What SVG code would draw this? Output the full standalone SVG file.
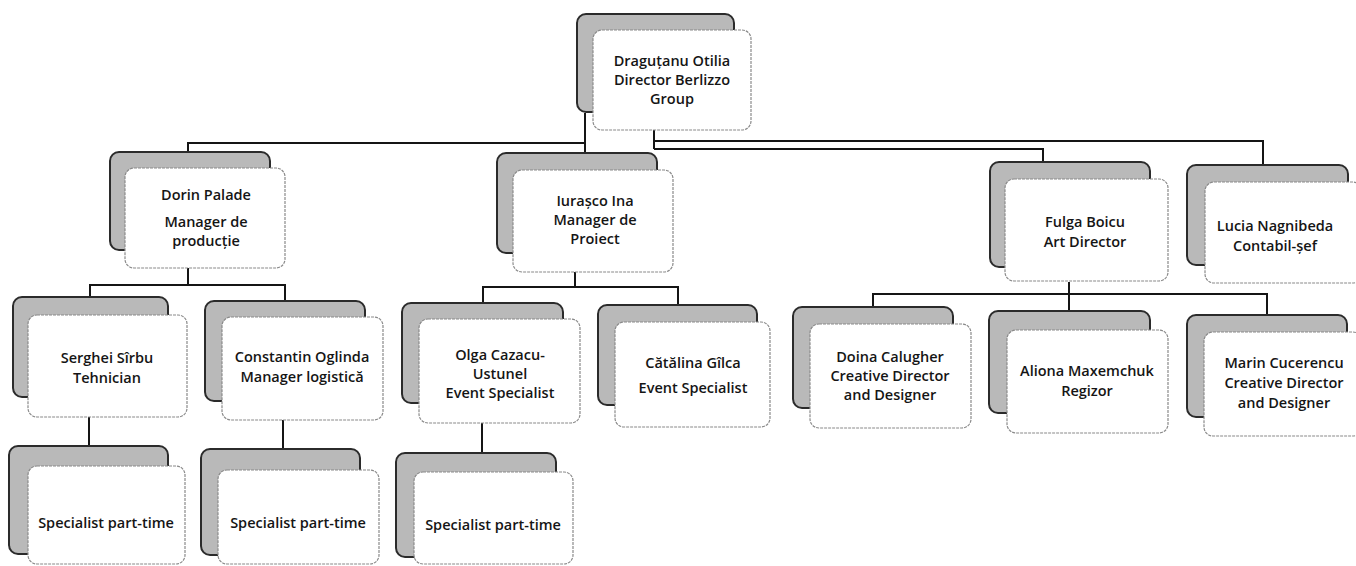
<svg xmlns="http://www.w3.org/2000/svg" width="1356" height="566" viewBox="0 0 1356 566">
<style>
.sh{fill:#b9b9b9;stroke:#2b2b2b;stroke-width:2}
.fr{fill:#ffffff;stroke:#8a8a8a;stroke-width:1.2;stroke-dasharray:3 1}
.t{font-family:"Open Sans","Noto Sans",sans-serif;font-size:14.5px;font-weight:600;fill:#151515;text-anchor:middle}
.c{fill:none;stroke:#151515;stroke-width:2}
</style>
<rect width="1356" height="566" fill="#ffffff"/>
<g id="connectors">
<path class="c" d="M585 113V153M188 152V143H585"/>
<path class="c" d="M654 130V149M654 141H1263V165M654 149H1043V162"/>
<path class="c" d="M188 268V285M90 297V285H285V301"/>
<path class="c" d="M575 272V287M483 303V287H678V305"/>
<path class="c" d="M1069 282V312M873 307V294H1267V315"/>
<path class="c" d="M89 417V446M283 420V450M482 423V453"/>
</g>
<g id="n-otilia"><rect class="sh" x="577" y="14" width="157" height="98" rx="9"/><rect class="fr" x="593" y="30" width="158" height="100" rx="9"/>
<text class="t" x="672" y="66">Draguțanu Otilia</text><text class="t" x="672" y="85">Director Berlizzo</text><text class="t" x="672" y="104">Group</text></g>
<g id="n-dorin"><rect class="sh" x="110" y="152" width="160" height="98" rx="9"/><rect class="fr" x="125" y="168" width="160" height="100" rx="9"/>
<text class="t" x="206" y="200">Dorin Palade</text><text class="t" x="206" y="227">Manager de</text><text class="t" x="206" y="246">producție</text></g>
<g id="n-iurasco"><rect class="sh" x="497" y="153" width="160" height="100" rx="9"/><rect class="fr" x="513" y="170" width="160" height="102" rx="9"/>
<text class="t" x="595" y="206">Iurașco Ina</text><text class="t" x="595" y="225">Manager de</text><text class="t" x="595" y="244">Proiect</text></g>
<g id="n-fulga"><rect class="sh" x="990" y="162" width="160" height="105" rx="9"/><rect class="fr" x="1005" y="179" width="163" height="102" rx="9"/>
<text class="t" x="1085" y="227">Fulga Boicu</text><text class="t" x="1085" y="247">Art Director</text></g>
<g id="n-lucia"><rect class="sh" x="1187" y="165" width="161" height="100" rx="9"/><rect class="fr" x="1205" y="182" width="157" height="101" rx="9"/>
<text class="t" x="1275" y="231">Lucia Nagnibeda</text><text class="t" x="1275" y="251">Contabil-șef</text></g>
<g id="n-serghei"><rect class="sh" x="13" y="297" width="155" height="100" rx="9"/><rect class="fr" x="28" y="315" width="159" height="102" rx="9"/>
<text class="t" x="107" y="363">Serghei Sîrbu</text><text class="t" x="107" y="383">Tehnician</text></g>
<g id="n-constantin"><rect class="sh" x="205" y="301" width="160" height="100" rx="9"/><rect class="fr" x="222" y="317" width="161" height="103" rx="9"/>
<text class="t" x="302" y="362">Constantin Oglinda</text><text class="t" x="302" y="382">Manager logistică</text></g>
<g id="n-olga"><rect class="sh" x="402" y="303" width="161" height="100" rx="9"/><rect class="fr" x="419" y="319" width="161" height="104" rx="9"/>
<text class="t" x="500" y="360">Olga Cazacu-</text><text class="t" x="500" y="379">Ustunel</text><text class="t" x="500" y="398">Event Specialist</text></g>
<g id="n-catalina"><rect class="sh" x="598" y="305" width="159" height="100" rx="9"/><rect class="fr" x="615" y="322" width="155" height="105" rx="9"/>
<text class="t" x="693" y="368">Cătălina Gîlca</text><text class="t" x="693" y="393">Event Specialist</text></g>
<g id="n-doina"><rect class="sh" x="793" y="307" width="160" height="101" rx="9"/><rect class="fr" x="810" y="324" width="161" height="104" rx="9"/>
<text class="t" x="890" y="362">Doina Calugher</text><text class="t" x="890" y="381">Creative Director</text><text class="t" x="890" y="400">and Designer</text></g>
<g id="n-aliona"><rect class="sh" x="989" y="311" width="161" height="102" rx="9"/><rect class="fr" x="1007" y="330" width="161" height="103" rx="9"/>
<text class="t" x="1087" y="376">Aliona Maxemchuk</text><text class="t" x="1087" y="396">Regizor</text></g>
<g id="n-marin"><rect class="sh" x="1187" y="315" width="160" height="102" rx="9"/><rect class="fr" x="1204" y="332" width="158" height="104" rx="9"/>
<text class="t" x="1284" y="368">Marin Cucerencu</text><text class="t" x="1284" y="388">Creative Director</text><text class="t" x="1284" y="408">and Designer</text></g>
<g id="n-spec1"><rect class="sh" x="9" y="446" width="159" height="108" rx="9"/><rect class="fr" x="28" y="466" width="157" height="98" rx="9"/>
<text class="t" x="106" y="528">Specialist part-time</text></g>
<g id="n-spec2"><rect class="sh" x="201" y="449" width="159" height="106" rx="9"/><rect class="fr" x="218" y="470" width="161" height="94" rx="9"/>
<text class="t" x="298" y="528">Specialist part-time</text></g>
<g id="n-spec3"><rect class="sh" x="396" y="453" width="160" height="104" rx="9"/><rect class="fr" x="414" y="472" width="159" height="92" rx="9"/>
<text class="t" x="493" y="530">Specialist part-time</text></g>
</svg>
